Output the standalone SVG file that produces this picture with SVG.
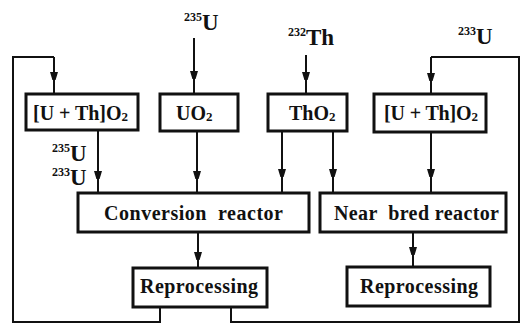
<svg xmlns="http://www.w3.org/2000/svg" width="521" height="324" viewBox="0 0 521 324">
<defs>
<marker id="ah" markerUnits="userSpaceOnUse" markerWidth="8" markerHeight="14" viewBox="0 0 8 14" refX="4" refY="7" orient="auto">
<path d="M0,3 L4,1 L8,3 L5,13 L3,13 Z" transform="rotate(-90 4 7)" fill="#111"/>
</marker>
<style>
.box{fill:#fff;stroke:#111;stroke-width:3}
.ln{fill:none;stroke:#111;stroke-width:2}
.arr{fill:none;stroke:#111;stroke-width:2;marker-mid:url(#ah)}
.t{font-family:"Liberation Serif","DejaVu Serif",serif;font-weight:bold;font-size:20px;fill:#111}
.iso{font-size:23px}
.sup{font-size:12px}
.sub{font-size:13px}
</style>
</defs>
<rect width="521" height="324" fill="#fff"/>
<g id="connectors">
<path class="arr" d="M194 38 V75 V94"/>
<path class="arr" d="M306 55 V76 V94"/>
<path class="ln" d="M160 307 V322 H13 V57 H54"/>
<path class="arr" d="M54 57 V76 V94"/>
<path class="ln" d="M231 307 V322 H519 V57 H431"/>
<path class="arr" d="M431 57 V77 V94"/>
<path class="arr" d="M98 130 V175 V193"/>
<path class="arr" d="M197 131 V175 V193"/>
<path class="arr" d="M282 131 V173 V193"/>
<path class="arr" d="M333 131 V173 V193"/>
<path class="arr" d="M431 132 V173 V193"/>
<path class="arr" d="M198 232 V256 V268"/>
<path class="arr" d="M413 232 V251 V267"/>
</g>
<g id="label-235U-top"><text class="t iso" x="184" y="30"><tspan class="sup" dy="-9">235</tspan><tspan dy="9">U</tspan></text></g>
<g id="label-232Th"><text class="t iso" x="288" y="45"><tspan class="sup" dy="-9">232</tspan><tspan dy="9">Th</tspan></text></g>
<g id="label-233U-top"><text class="t iso" x="458" y="44"><tspan class="sup" dy="-9">233</tspan><tspan dy="9">U</tspan></text></g>
<g id="label-235U-233U">
<text class="t iso" x="52" y="161"><tspan class="sup" dy="-9">235</tspan><tspan dy="9">U</tspan></text>
<text class="t iso" x="52" y="185"><tspan class="sup" dy="-9">233</tspan><tspan dy="9">U</tspan></text>
</g>
<g id="box-UThO2-left">
<rect class="box" x="26" y="94" width="112" height="36"/>
<text class="t" x="33" y="120" textLength="95">[U + Th]O<tspan class="sub" dy="1">2</tspan></text>
</g>
<g id="box-UO2">
<rect class="box" x="160" y="94" width="78" height="37"/>
<text class="t" x="176" y="120">UO<tspan class="sub" dy="1">2</tspan></text>
</g>
<g id="box-ThO2">
<rect class="box" x="268" y="94" width="79" height="37"/>
<text class="t" x="289" y="120">ThO<tspan class="sub" dy="1">2</tspan></text>
</g>
<g id="box-UThO2-right">
<rect class="box" x="374" y="94" width="112" height="38"/>
<text class="t" x="384" y="120" textLength="94">[U + Th]O<tspan class="sub" dy="1">2</tspan></text>
</g>
<g id="box-conversion">
<rect class="box" x="78" y="193" width="231" height="39"/>
<text class="t" x="104" y="220" textLength="179" xml:space="preserve">Conversion  reactor</text>
</g>
<g id="box-nearbred">
<rect class="box" x="320" y="193" width="186" height="39"/>
<text class="t" x="334" y="220" textLength="165" xml:space="preserve">Near  bred reactor</text>
</g>
<g id="box-reproc-left">
<rect class="box" x="133" y="268" width="134" height="39"/>
<text class="t" x="140" y="293" textLength="118">Reprocessing</text>
</g>
<g id="box-reproc-right">
<rect class="box" x="347" y="267" width="143" height="39"/>
<text class="t" x="360" y="293" textLength="118">Reprocessing</text>
</g>
</svg>
